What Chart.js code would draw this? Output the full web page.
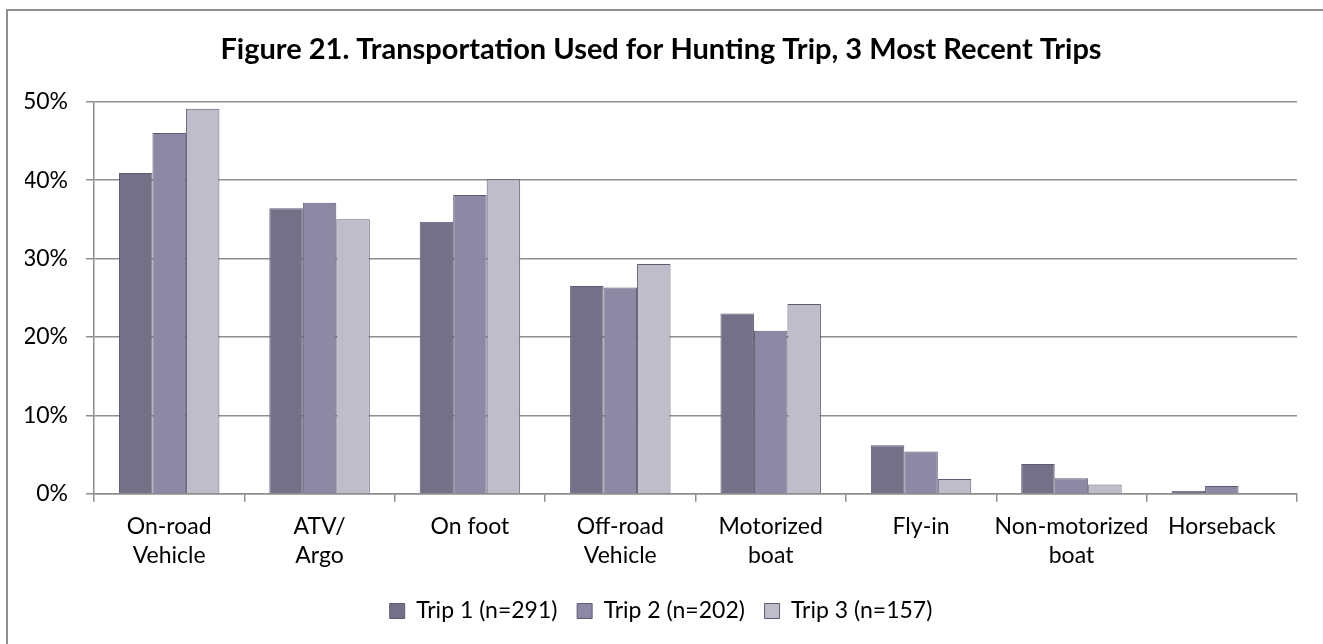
<!DOCTYPE html>
<html>
<head>
<meta charset="utf-8">
<script src="https://cdn.jsdelivr.net/npm/chart.js@4"></script>
<style>
  html, body { margin: 0; padding: 0; background: #fff; overflow: hidden; }
  #wrap { position: relative; width: 1323px; height: 644px; }
  #frame { position: absolute; left: 6px; top: 9px; width: 1340px; height: 660px;
           border: 2px solid #8e8e8e; box-sizing: border-box; }
  #chart { position: absolute; left: 0; top: 0; }
</style>
</head>
<body>
<div id="wrap">
  <div id="frame"></div>
  <canvas id="chart" width="1323" height="644"></canvas>
</div>
<script>
// values (percent of respondents)
const categories = [
  ["On-road", "Vehicle"], ["ATV/", "Argo"], ["On foot"], ["Off-road", "Vehicle"],
  ["Motorized", "boat"], ["Fly-in"], ["Non-motorized", "boat"], ["Horseback"]
];
const trip1 = [40.9, 36.4, 34.7, 26.5, 23.0, 6.2, 3.8, 0.4];
const trip2 = [46.0, 37.1, 38.1, 26.3, 20.8, 5.4, 2.0, 1.0];
const trip3 = [49.1, 35.0, 40.1, 29.3, 24.2, 1.9, 1.2, 0];
const seriesNames = ["Trip 1 (n=291)", "Trip 2 (n=202)", "Trip 3 (n=157)"];
const yTicks = [0, 10, 20, 30, 40, 50];

const FONT = "Lato, 'Open Sans', sans-serif";
const fills = ["#747087", "#8d88a4", "#c0bdcb"];
const edge = "#5f5a73";
const gridGray = "#8e8e8e";

Chart.defaults.font.family = FONT;
Chart.defaults.color = "#000";

const datasets = [trip1, trip2, trip3].map((d, i) => ({
  label: seriesNames[i],
  data: d,
  backgroundColor: fills[i],
  borderColor: edge,
  borderWidth: 1,
  categoryPercentage: 0.668,
  barPercentage: 1
}));

new Chart(document.getElementById("chart").getContext("2d"), {
  type: "bar",
  data: { labels: categories, datasets },
  options: {
    responsive: false,
    animation: false,
    layout: { padding: { left: 25, right: 26, top: 0, bottom: 11.5 } },
    plugins: {
      title: {
        display: true,
        text: "Figure 21. Transportation Used for Hunting Trip, 3 Most Recent Trips",
        font: { size: 29, weight: "bold", family: FONT },
        color: "#000",
        padding: { top: 32.6, bottom: 34.3 }
      },
      legend: {
        position: "bottom",
        labels: {
          font: { size: 23, family: FONT },
          boxWidth: 15,
          boxHeight: 15,
          padding: 19.7,
          color: "#000"
        }
      },
      tooltip: { enabled: false }
    },
    scales: {
      x: {
        grid: { display: true, drawOnChartArea: false, drawTicks: true, tickLength: 8,
                color: gridGray, lineWidth: 1.5, offset: true },
        border: { display: true, color: gridGray, width: 1.5 },
        ticks: { font: { size: 23, lineHeight: 1.26 }, padding: 10, maxRotation: 0, autoSkip: false }
      },
      y: {
        min: 0, max: 50,
        afterFit: (s) => { s.width = 69; },
        afterBuildTicks: (s) => { s.ticks = yTicks.map(v => ({ value: v })); },
        grid: { color: gridGray, lineWidth: 1.5, tickLength: 8, drawTicks: true },
        border: { display: true, color: gridGray, width: 1.5 },
        ticks: { font: { size: 23 }, padding: 18, callback: (v) => v + "%" }
      }
    }
  }
});
</script>
</body>
</html>
